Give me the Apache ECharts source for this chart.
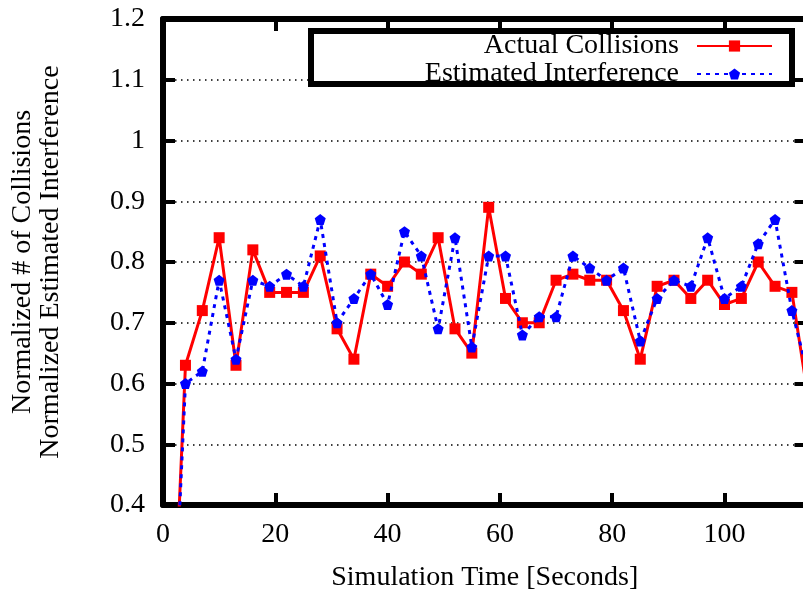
<!DOCTYPE html>
<html>
<head>
<meta charset="utf-8">
<script src="https://cdn.jsdelivr.net/npm/echarts@6/dist/echarts.min.js"></script>
<style>
  html, body { margin: 0; padding: 0; background: #fff; }
  #chart { width: 803px; height: 591px; }
</style>
</head>
<body>
<div id="chart"></div>
<script>
// simulation time (seconds), one sample every 3 s
var timeSec = [1, 4, 7, 10, 13, 16, 19, 22, 25, 28, 31, 34, 37, 40, 43, 46, 49, 52, 55, 58,
    61, 64, 67, 70, 73, 76, 79, 82, 85, 88, 91, 94, 97, 100, 103, 106, 109, 112, 115];

// normalized # of collisions
var actualCollisions = [0, 0.63, 0.72, 0.84, 0.63, 0.82, 0.75, 0.75, 0.75, 0.81, 0.69, 0.64, 0.78,
    0.76, 0.80, 0.78, 0.84, 0.69, 0.65, 0.89, 0.74, 0.70, 0.70, 0.77, 0.78, 0.77,
    0.77, 0.72, 0.64, 0.76, 0.77, 0.74, 0.77, 0.73, 0.74, 0.80, 0.76, 0.75, 0.57];

// normalized estimated interference
var estimatedInterference = [0, 0.60, 0.62, 0.77, 0.64, 0.77, 0.76, 0.78, 0.76, 0.87, 0.70, 0.74, 0.78,
    0.73, 0.85, 0.81, 0.69, 0.84, 0.66, 0.81, 0.81, 0.68, 0.71, 0.71, 0.81, 0.79,
    0.77, 0.79, 0.67, 0.74, 0.77, 0.76, 0.84, 0.74, 0.76, 0.83, 0.87, 0.72, 0.61];

var seriesNames = ['Actual Collisions', 'Estimated Interference'];

function pairs(xs, ys) {
    var out = [];
    for (var i = 0; i < xs.length; i++) {
        out.push([xs[i], ys[i]]);
    }
    return out;
}

var FONT = '"Liberation Serif", "DejaVu Serif", serif';
var pentagon = 'path://M0,-1L0.951,-0.309L0.588,0.809L-0.588,0.809L-0.951,-0.309Z';

var frameLine = { show: true, onZero: false, lineStyle: { color: '#000', width: 6 } };
var frameTick = { show: true, inside: true, length: 12, lineStyle: { color: '#000', width: 4 } };

window.onload = function () {
    var chart = echarts.init(document.getElementById('chart'));

    var legendBase = {
        orient: 'vertical',
        align: 'right',
        right: 30,
        padding: 0,
        itemWidth: 75,
        itemHeight: 14,
        z: 20,
        textStyle: { fontFamily: FONT, fontSize: 28, color: '#000', padding: [0, 13, 0, 0] }
    };

    var option = {
        animation: false,
        backgroundColor: '#fff',
        // right edge of the frame sits just past the page edge (clipped like the original)
        grid: { left: 163, right: -3.5, top: 19, bottom: 86, outerBoundsMode: 'none', containLabel: false },
        legend: [
            Object.assign({}, legendBase, { top: 32, data: [seriesNames[0]] }),
            Object.assign({}, legendBase, { top: 60, data: [seriesNames[1]] })
        ],
        graphic: [{
            type: 'rect',
            z: 10,
            shape: { x: 311, y: 31, width: 481, height: 53 },
            style: { fill: '#fff', stroke: '#000', lineWidth: 6 }
        }],
        xAxis: [{
            type: 'value',
            position: 'bottom',
            min: 0,
            max: 114.6,
            interval: 20,
            axisLine: frameLine,
            axisTick: frameTick,
            splitLine: { show: false },
            axisLabel: { fontFamily: FONT, fontSize: 28, color: '#000', margin: 16, showMaxLabel: false },
            name: 'Simulation Time [Seconds]',
            nameLocation: 'middle',
            nameGap: 59,
            nameTextStyle: { fontFamily: FONT, fontSize: 28, color: '#000' }
        }, {
            type: 'value',
            position: 'top',
            min: 0,
            max: 114.6,
            interval: 20,
            axisLine: frameLine,
            axisTick: frameTick,
            axisLabel: { show: false },
            splitLine: { show: false }
        }],
        yAxis: [{
            type: 'value',
            position: 'left',
            min: 0.4,
            max: 1.2,
            interval: 0.1,
            axisLine: frameLine,
            axisTick: frameTick,
            axisLabel: { fontFamily: FONT, fontSize: 28, color: '#000', margin: 18 },
            splitLine: { show: true, lineStyle: { color: '#000', width: 1.5, type: [1.5, 4.5] } },
            name: 'Normalized # of Collisions\nNormalized Estimated Interference',
            nameLocation: 'middle',
            nameRotate: 90,
            nameGap: 98,
            nameTextStyle: { fontFamily: FONT, fontSize: 28, color: '#000', lineHeight: 28 }
        }, {
            type: 'value',
            position: 'right',
            min: 0.4,
            max: 1.2,
            interval: 0.1,
            axisLine: frameLine,
            axisTick: frameTick,
            axisLabel: { show: false },
            splitLine: { show: false }
        }],
        series: [{
            name: seriesNames[0],
            type: 'line',
            data: pairs(timeSec, actualCollisions),
            symbol: 'rect',
            symbolSize: 11,
            color: '#ff0000',
            lineStyle: { color: '#ff0000', width: 3 },
            itemStyle: { color: '#ff0000' },
            z: 3
        }, {
            name: seriesNames[1],
            type: 'line',
            data: pairs(timeSec, estimatedInterference),
            symbol: pentagon,
            symbolSize: 11,
            color: '#0000ff',
            lineStyle: { color: '#0000ff', width: 3, type: [4, 5] },
            itemStyle: { color: '#0000ff' },
            z: 4
        }]
    };

    chart.setOption(option);
};
</script>
</body>
</html>
